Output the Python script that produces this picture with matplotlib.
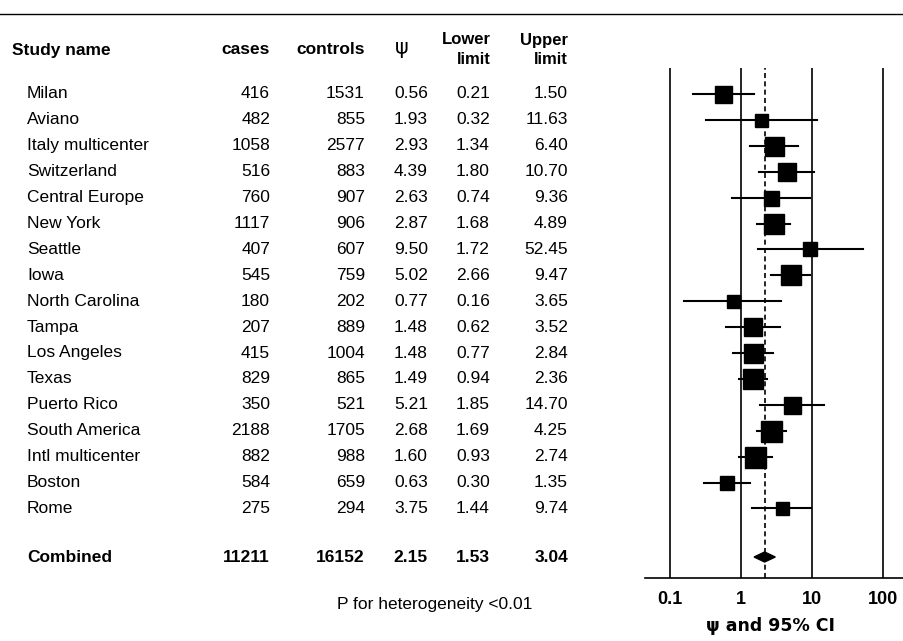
import numpy as np
import matplotlib.pyplot as plt
from matplotlib.patches import Polygon

plt.rcParams['font.family'] = ['Liberation Sans', 'DejaVu Sans']

studies = ["Milan", "Aviano", "Italy multicenter", "Switzerland", "Central Europe",
           "New York", "Seattle", "Iowa", "North Carolina", "Tampa", "Los Angeles",
           "Texas", "Puerto Rico", "South America", "Intl multicenter", "Boston", "Rome"]
cases = [416, 482, 1058, 516, 760, 1117, 407, 545, 180, 207, 415, 829, 350, 2188, 882, 584, 275]
controls = [1531, 855, 2577, 883, 907, 906, 607, 759, 202, 889, 1004, 865, 521, 1705, 988, 659, 294]
psi = [0.56, 1.93, 2.93, 4.39, 2.63, 2.87, 9.50, 5.02, 0.77, 1.48, 1.48, 1.49, 5.21, 2.68, 1.60, 0.63, 3.75]
lower = [0.21, 0.32, 1.34, 1.80, 0.74, 1.68, 1.72, 2.66, 0.16, 0.62, 0.77, 0.94, 1.85, 1.69, 0.93, 0.30, 1.44]
upper = [1.50, 11.63, 6.40, 10.70, 9.36, 4.89, 52.45, 9.47, 3.65, 3.52, 2.84, 2.36, 14.70, 4.25, 2.74, 1.35, 9.74]
# box side in pixels (approx weight)
box_px = [17, 13, 19, 18, 15, 20, 14, 20, 13, 18, 19, 20, 17, 21, 21, 14, 13]
combined = ("Combined", 11211, 16152, 2.15, 1.53, 3.04)

W, H = 904, 641
fig = plt.figure(figsize=(W / 100, H / 100), dpi=100)

def fy(y):
    return 1 - y / H

def t(x, y, s, ha='left', bold=False, size=12.5, **kw):
    fig.text(x / W, fy(y), s, ha=ha, va='center', fontsize=size,
             fontweight='bold' if bold else 'normal', **kw)

fig.add_artist(plt.Line2D([0, 1], [fy(14)] * 2, color='black', lw=1))

# headers
t(12, 50, "Study name", bold=True)
t(270, 50, "cases", ha='right', bold=True)
t(365, 50, "controls", ha='right', bold=True)
t(402, 48, "ψ", ha='center', size=15, fontfamily='DejaVu Sans')
t(491, 40, "Lower", ha='right', bold=True, size=12)
t(491, 60, "limit", ha='right', bold=True, size=12)
t(568, 40, "Upper", ha='right', bold=True, size=12)
t(568, 60, "limit", ha='right', bold=True, size=12)

row_y = [94 + i * 25.9 for i in range(len(studies))]
for i, y in enumerate(row_y):
    t(27, y, studies[i])
    t(270, y, str(cases[i]), ha='right')
    t(365, y, str(controls[i]), ha='right')
    t(428, y, f"{psi[i]:.2f}", ha='right')
    t(490, y, f"{lower[i]:.2f}", ha='right')
    t(568, y, f"{upper[i]:.2f}", ha='right')
cy = 557
t(27, cy, combined[0], bold=True)
t(270, cy, str(combined[1]), ha='right', bold=True)
t(365, cy, str(combined[2]), ha='right', bold=True)
t(428, cy, f"{combined[3]:.2f}", ha='right', bold=True)
t(490, cy, f"{combined[4]:.2f}", ha='right', bold=True)
t(568, cy, f"{combined[5]:.2f}", ha='right', bold=True)
t(435, 605, "P for heterogeneity <0.01", ha='center')

# forest panel
x0, x1, ytop, ybot = 645, 904, 68, 578
ax = fig.add_axes([x0 / W, fy(ybot), (x1 - x0) / W, (ybot - ytop) / H])
ax.set_xscale('log')
dec = 71.0
ax.set_xlim(10 ** (-1 - (670 - x0) / dec), 10 ** (2 + (x1 - 883) / dec))
ax.set_ylim(ybot, ytop)
for v in [0.1, 1, 10, 100]:
    ax.axvline(v, color='black', lw=1.2)
ax.axvline(combined[3], color='black', lw=1.2, ls=(0, (3, 2)))
for i, y in enumerate(row_y):
    ax.plot([lower[i], upper[i]], [y, y], color='black', lw=1.5)
    ax.plot(psi[i], y, 's', color='black', ms=box_px[i] * 0.72, mec='black')
d = Polygon([[combined[4], cy], [combined[3], cy - 5], [combined[5], cy], [combined[3], cy + 5]],
            closed=True, color='black')
ax.add_patch(d)
for s in ['top', 'right', 'left']:
    ax.spines[s].set_visible(False)
ax.spines['bottom'].set_linewidth(1.2)
ax.set_yticks([])
ax.set_xticks([0.1, 1, 10, 100])
ax.set_xticklabels(["0.1", "1", "10", "100"], fontweight='bold', fontsize=13)
ax.xaxis.set_minor_locator(plt.NullLocator())
ax.tick_params(axis='x', length=0, pad=9)
fig.text(770 / W, fy(626), "ψ and 95% CI", ha='center', va='center', fontsize=12.5,
         fontweight='bold', family=['DejaVu Sans'])

fig.savefig("out.png", dpi=100)
